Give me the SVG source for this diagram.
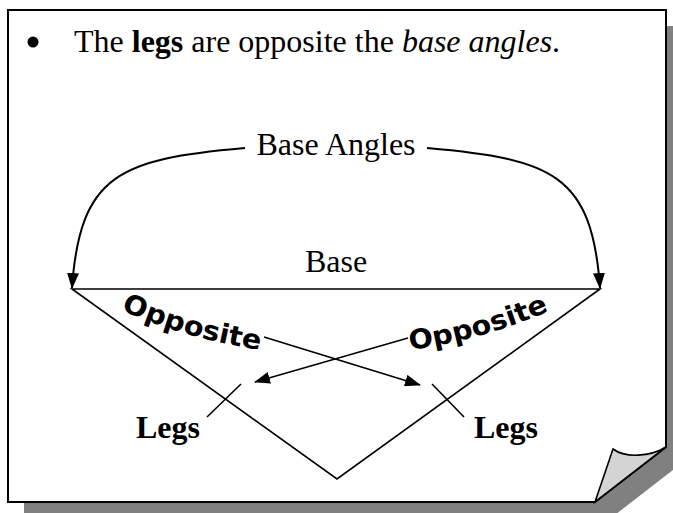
<svg xmlns="http://www.w3.org/2000/svg" width="673" height="513" viewBox="0 0 673 513">
<style>
.serif{font-family:"Liberation Serif","Times New Roman",serif;font-size:32px;fill:#000}
.wa{font-family:"DejaVu Sans","Liberation Sans",Arial,sans-serif;font-size:27px;font-weight:bold;fill:#000}
.ln{fill:none;stroke:#000;stroke-width:1.6}
.cv{fill:none;stroke:#000;stroke-width:2}
</style>
<defs>
<marker id="ah" viewBox="0 0 16 12" refX="15" refY="6" markerWidth="16" markerHeight="12" markerUnits="userSpaceOnUse" orient="auto">
<path d="M0,0 L16,6 L0,12 Z" fill="#000"/>
</marker>
<path id="oppL" d="M121,310 Q185,339 262,350"/>
<path id="oppR" d="M410,350 Q487,339 551,310"/>
</defs>
<g id="page">
<path d="M24,26 H682 V463 L611,518 H24 Z" fill="#808080"/>
<path d="M8,10 H666 V447 L595,502 H8 Z" fill="#fff" stroke="#000" stroke-width="2"/>
<path d="M595,502 L613,449 C625,458 650,457 666,447 Z" fill="#d4d4d4" stroke="#000" stroke-width="1.6"/>
</g>
<g id="title">
<circle cx="33" cy="42" r="5.5" fill="#000"/>
<text class="serif" x="74" y="52">The <tspan font-weight="bold">legs</tspan> are opposite the <tspan font-style="italic">base angles</tspan>.</text>
</g>
<g id="triangle">
<path class="ln" d="M72,289 L600,289 L337,479 Z"/>
</g>
<g id="base-angles-label">
<text class="serif" x="336" y="155" text-anchor="middle">Base Angles</text>
</g>
<g id="base-label">
<text class="serif" x="336" y="272" text-anchor="middle">Base</text>
</g>
<g id="opposite-left">
<text class="wa"><textPath href="#oppL" textLength="145" lengthAdjust="spacingAndGlyphs">Opposite</textPath></text>
</g>
<g id="opposite-right">
<text class="wa"><textPath href="#oppR" textLength="145" lengthAdjust="spacingAndGlyphs">Opposite</textPath></text>
</g>
<g id="legs-left">
<text class="serif" x="168" y="438" text-anchor="middle" font-weight="bold">Legs</text>
</g>
<g id="legs-right">
<text class="serif" x="506" y="438" text-anchor="middle" font-weight="bold">Legs</text>
</g>
<g id="connectors">
<path class="cv" d="M245,148 C120,159 80,174 72,288" marker-end="url(#ah)"/>
<path class="cv" d="M427,148 C552,159 592,174 600,288" marker-end="url(#ah)"/>
<path class="ln" d="M264,337 L420,385" marker-end="url(#ah)"/>
<path class="ln" d="M408,338 L255,382" marker-end="url(#ah)"/>
<path class="ln" d="M241,384 L207,417"/>
<path class="ln" d="M432,384 L464,417"/>
</g>
</svg>
